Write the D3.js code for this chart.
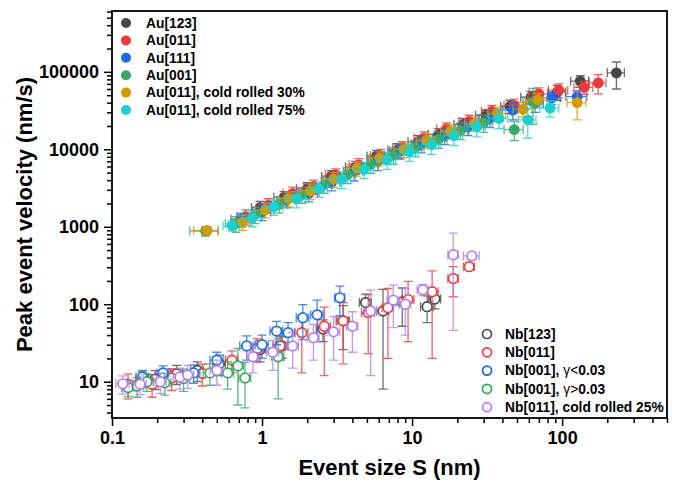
<!DOCTYPE html>
<html>
<head>
<meta charset="utf-8">
<script src="https://cdn.jsdelivr.net/npm/d3@7"></script>
<style>
  body { margin: 0; background: #fff; }
  svg { display: block; }
</style>
</head>
<body>
<div id="chart"></div>
<script>
// each row: [event size S (nm), peak velocity (nm/s), error on S, error on velocity]
const au123 = [[0.97,1770,0.12,350],[1.4,2400,0.2,450],[2.0,3100,0.3,600],[2.9,4500,0.4,800],[4.2,5900,0.6,1100],[5.8,8200,0.8,1500],[8,9800,1.1,2000],[11,12500,1.6,2500],[15,15500,2.2,3000],[22,21000,3,4000],[31,27500,4.5,5000],[45,36000,6,7000],[62,47000,9,9000],[93,55000,12,12000],[132,76000,18,13000],[230,97000,30,37000]];
const au011 = [[0.78,1350,0.1,300],[1.1,1900,0.15,400],[1.6,2700,0.22,550],[2.2,3300,0.3,700],[3.1,4700,0.45,900],[4.4,6300,0.6,1300],[6.2,8300,0.9,1700],[8.6,10500,1.2,2100],[12,14000,1.7,2800],[17,18500,2.4,3500],[24,23000,3.5,4500],[34,31000,5,6000],[48,37000,7,7500],[70,52000,10,10000],[95,58000,14,12000],[140,63000,20,12000],[174,72000,22,20000]];
const au111 = [[0.72,1250,0.1,250],[1.0,1550,0.14,350],[1.45,2200,0.2,450],[2.05,2700,0.3,600],[2.9,3700,0.4,800],[4.1,5200,0.6,1300],[5.9,7000,0.8,1700],[8.3,9500,1.2,2000],[11.5,11800,1.6,2800],[16.5,15000,2.3,3500],[23.5,19500,3.3,4500],[33,25000,5,6000],[47,32000,7,8000],[66,39000,9,9000],[85,46000,12,8000],[126,48000,20,9000]];
const au001 = [[0.42,880,0.09,120],[0.67,1100,0.1,250],[0.9,1450,0.13,350],[1.3,1950,0.18,450],[1.85,2600,0.25,600],[2.6,3500,0.35,800],[3.7,4700,0.5,1100],[5.3,6400,0.7,1500],[7.5,8400,1,2000],[10.5,10500,1.5,2500],[15,13500,2.1,3200],[21,17500,3,4200],[30,22000,4.2,5500],[48,18000,7,5000],[64,41000,9,20000]];
const auCold30 = [[0.43,900,0.08,100],[0.74,1150,0.1,250],[1.05,1650,0.15,350],[1.5,2300,0.2,500],[2.1,2900,0.3,650],[3.0,4100,0.4,900],[4.3,5700,0.6,1200],[6.1,7700,0.9,1600],[8.8,10000,1.2,2200],[12.5,13000,1.8,2800],[18,17000,2.5,3600],[26,21500,3.6,4500],[37,29000,5,6000],[55,33000,8,7000],[69,43500,10,9000],[126,40000,18,16000]];
const auCold75 = [[0.63,1030,0.08,150],[0.86,1300,0.12,300],[1.2,1800,0.17,400],[1.7,2300,0.24,550],[2.4,3100,0.33,700],[3.4,4100,0.5,1000],[4.8,5500,0.7,1300],[6.8,7300,1,1800],[9.6,9300,1.3,2300],[13.5,11500,1.9,2900],[19,15000,2.7,3800],[27,19500,3.8,5000],[38,25000,5.5,6500],[59,24000,8,10000],[83,34000,12,8000]];

const nb123 = [[0.159,10.9,0.015,2.5],[0.194,10.9,0.02,3],[0.27,12.7,0.025,3.5],[0.37,14,0.035,4],[0.52,17,0.05,5],[0.97,26,0.09,8],[1.36,29,0.13,9],[2.55,48,0.25,15],[3.47,61,0.35,35],[4.9,105,0.45,30],[6.4,82,0.6,74],[8.6,107,0.8,55],[12.6,93,1.2,35],[14.2,117,1.3,30]];
const nb011 = [[0.128,9.3,0.012,3.3],[0.185,9.3,0.018,3],[0.25,11.2,0.025,3.5],[0.4,12.8,0.04,4],[0.63,19,0.06,6],[0.93,27,0.09,9],[1.32,29,0.13,10],[1.84,43,0.18,30],[2.6,52,0.25,40],[3.47,61,0.3,44],[5.1,78,0.5,55],[6.9,90,0.6,70],[9.4,115,0.9,82],[13.6,145,1.3,125],[18.8,215,1.5,90],[24,305,2,20]];
const nb001Low = [[0.16,11.5,0.015,2.5],[0.219,13,0.02,3],[0.35,13,0.035,3.5],[0.5,19,0.05,5],[0.79,29,0.08,10],[1.0,30,0.1,10],[1.25,45,0.12,15],[1.49,43,0.15,15],[1.87,67,0.18,32],[2.33,73,0.22,40],[3.3,121,0.25,50]];
const nb001High = [[0.128,8.4,0.012,2],[0.147,8.8,0.014,2.5],[0.171,10,0.017,2.5],[0.225,9.7,0.022,3],[0.3,11,0.03,3.5],[0.45,13,0.045,4],[0.59,13,0.055,5],[0.69,16,0.06,11],[0.77,11.2,0.07,6.6],[1.28,21,0.12,15]];
const nbCold25 = [[0.118,9.4,0.012,2.5],[0.154,9.3,0.015,2.5],[0.21,10,0.02,3],[0.284,11.5,0.028,3.5],[0.32,12.2,0.03,4],[0.5,14,0.05,5],[0.87,21,0.08,8],[1.18,24,0.11,10],[1.6,29,0.15,14],[2.2,37,0.2,18],[3.0,44,0.3,25],[4.0,52,0.35,28],[5.3,82,0.5,70],[7.5,113,0.7,63],[9,100,0.8,60],[11.8,154,1,25],[18.8,436,1.5,390],[25,420,3,40]];

const auNames = ["Au[123]", "Au[011]", "Au[111]", "Au[001]", "Au[011], cold rolled 30%", "Au[011], cold rolled 75%"];
const nbNames = ["Nb[123]", "Nb[011]", "Nb[001], |γ<|0.03", "Nb[001], |γ>|0.03", "Nb[011], cold rolled 25%"];
const xTicks = [0.1, 1, 10, 100];
const yTicks = [10, 100, 1000, 10000, 100000];

const auSeries = [au123, au011, au111, au001, auCold30, auCold75];
const nbSeries = [nb123, nb011, nb001Low, nb001High, nbCold25];
const auColors = ["#464646", "#ec3a3a", "#1c6be0", "#35a86a", "#d39a06", "#1ecfcf"];
const nbColors = ["#4a4a4a", "#f03b3b", "#1c6be0", "#2fa85a", "#b07ef0"];

const width = 680, height = 485;
const margin = {top: 11, right: 13, bottom: 67, left: 112};

const svg = d3.select("#chart").append("svg")
  .attr("width", width)
  .attr("height", height)
  .style("font-family", "'Liberation Sans', Arial, sans-serif");

const x = d3.scaleLog().domain([0.1, 500]).range([margin.left, width - margin.right]);
const y = d3.scaleLog().domain([3.4, 610000]).range([height - margin.bottom, margin.top]);

svg.append("clipPath").attr("id", "plot-clip")
  .append("rect")
  .attr("x", margin.left).attr("y", margin.top)
  .attr("width", width - margin.left - margin.right)
  .attr("height", height - margin.top - margin.bottom);

const plot = svg.append("g").attr("clip-path", "url(#plot-clip)");

// error bars (linear errors drawn on log axes) with caps
function drawErrors(g, rows, color) {
  const cap = 4.5;
  const eb = g.append("g")
    .attr("stroke", color)
    .attr("stroke-width", 1.3)
    .attr("stroke-opacity", 0.8)
    .attr("fill", "none");
  rows.forEach(([s, v, se, ve]) => {
    const cx = x(s), cy = y(v);
    const top = y(v + ve);
    const bot = y(Math.max(v - ve, 0.5));
    const lft = x(Math.max(s - se, 0.01));
    const rgt = x(s + se);
    eb.append("path")
      .attr("d", `M${cx},${top}V${bot}M${cx - cap},${top}H${cx + cap}M${cx - cap},${bot}H${cx + cap}` +
                 `M${lft},${cy}H${rgt}M${lft},${cy - cap}V${cy + cap}M${rgt},${cy - cap}V${cy + cap}`);
  });
}

auSeries.forEach((rows, i) => {
  const g = plot.append("g");
  drawErrors(g, rows, auColors[i]);
  g.selectAll("circle")
    .data(rows)
    .join("circle")
    .attr("cx", d => x(d[0]))
    .attr("cy", d => y(d[1]))
    .attr("r", 5.4)
    .attr("fill", auColors[i]);
});

nbSeries.forEach((rows, i) => {
  const g = plot.append("g");
  drawErrors(g, rows, nbColors[i]);
  g.selectAll("circle")
    .data(rows)
    .join("circle")
    .attr("cx", d => x(d[0]))
    .attr("cy", d => y(d[1]))
    .attr("r", 4.8)
    .attr("fill", "white")
    .attr("stroke", nbColors[i])
    .attr("stroke-width", 1.7);
});

// axes: major ticks with labels, minor ticks without
const isMajor = d => Math.abs(Math.log10(d) - Math.round(Math.log10(d))) < 1e-9;
const xMinor = x.ticks().filter(d => !isMajor(d));
const yMinor = y.ticks().filter(d => !isMajor(d));

const xAxisG = svg.append("g").attr("transform", `translate(0,${height - margin.bottom})`);
xAxisG.append("g")
  .call(d3.axisBottom(x).tickValues(xMinor).tickSize(5).tickFormat(""));
xAxisG.append("g")
  .call(d3.axisBottom(x).tickValues(xTicks).tickSize(8).tickPadding(5).tickFormat(d => String(d)));

const yAxisG = svg.append("g").attr("transform", `translate(${margin.left},0)`);
yAxisG.append("g")
  .call(d3.axisLeft(y).tickValues(yMinor).tickSize(5).tickFormat(""));
yAxisG.append("g")
  .call(d3.axisLeft(y).tickValues(yTicks).tickSize(8).tickPadding(5).tickFormat(d => String(d)));

svg.selectAll(".domain").remove();
svg.selectAll(".tick line").attr("stroke", "#000").attr("stroke-width", 1.5);
svg.selectAll(".tick text")
  .attr("fill", "#000")
  .style("font-size", "18px")
  .style("font-weight", "bold")
  .style("font-family", "'Liberation Sans', Arial, sans-serif");

// frame
svg.append("rect")
  .attr("x", margin.left).attr("y", margin.top)
  .attr("width", width - margin.left - margin.right)
  .attr("height", height - margin.top - margin.bottom)
  .attr("fill", "none")
  .attr("stroke", "#000")
  .attr("stroke-width", 1.8);

// axis titles
svg.append("text")
  .attr("x", (margin.left + width - margin.right) / 2)
  .attr("y", 475)
  .attr("text-anchor", "middle")
  .style("font-size", "22px")
  .style("font-weight", "bold")
  .text("Event size S (nm)");

svg.append("text")
  .attr("transform", `translate(32,${(margin.top + height - margin.bottom) / 2}) rotate(-90)`)
  .attr("text-anchor", "middle")
  .style("font-size", "22px")
  .style("font-weight", "bold")
  .text("Peak event velocity (nm/s)");

// legends
const auLegend = svg.append("g");
auNames.forEach((name, i) => {
  const ly = 23 + i * 17.4;
  auLegend.append("circle")
    .attr("cx", 126).attr("cy", ly).attr("r", 5)
    .attr("fill", auColors[i]);
  auLegend.append("text")
    .attr("x", 146).attr("y", ly)
    .attr("dy", "0.35em")
    .style("font-size", "13.8px")
    .style("font-weight", "bold")
    .text(name);
});

const nbLegend = svg.append("g");
nbNames.forEach((name, i) => {
  const ly = 334 + i * 18.3;
  nbLegend.append("circle")
    .attr("cx", 487).attr("cy", ly).attr("r", 4.5)
    .attr("fill", "white")
    .attr("stroke", nbColors[i])
    .attr("stroke-width", 1.7);
  const t = nbLegend.append("text")
    .attr("x", 505).attr("y", ly)
    .attr("dy", "0.35em")
    .style("font-size", "13.8px")
    .style("font-weight", "bold");
  name.split("|").forEach((part, k) => {
    t.append("tspan")
      .style("font-weight", k === 1 ? "normal" : "bold")
      .text(part);
  });
});
</script>
</body>
</html>
